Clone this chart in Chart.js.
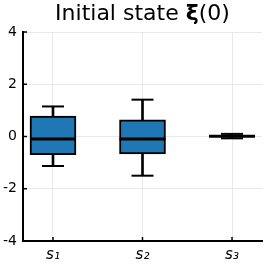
<!DOCTYPE html>
<html>
<head>
<meta charset="utf-8">
<script src="https://cdn.jsdelivr.net/npm/chart.js@4"></script>
<style>
  html, body { margin: 0; padding: 0; background: #fff; overflow: hidden; }
  #wrap { position: relative; width: 266px; height: 266px; }
  #title {
    position: absolute; left: 23px; width: 239px; top: 0px;
    text-align: center; font-family: "DejaVu Sans", sans-serif;
    font-size: 22px; line-height: 26px; color: #000;
  }
</style>
</head>
<body>
<div id="wrap">
  <div id="title">Initial state <b>ξ</b>(0)</div>
  <canvas id="box" width="266" height="266"></canvas>
</div>
<script>
const categories = ['s₁', 's₂', 's₃'];
const lowWhisker = [-1.13, -1.50, -0.07];
const q1 = [-0.70, -0.67, 0.00];
const medians = [-0.10, -0.10, 0.01];
const q3 = [0.78, 0.64, 0.02];
const highWhisker = [1.15, 1.41, 0.10];
const yTicks = [-4, -2, 0, 2, 4];

const xs = categories.map((c, i) => i + 1);

// short tick marks pointing into the plot
const innerTicks = {
    id: 'innerTicks',
    afterDraw(chart) {
        const c = chart.ctx, a = chart.chartArea;
        const xScale = chart.scales.x, yScale = chart.scales.y;
        c.save();
        c.strokeStyle = '#000';
        c.lineWidth = 1.5;
        yScale.ticks.forEach(t => {
            const py = yScale.getPixelForValue(t.value);
            c.beginPath(); c.moveTo(a.left, py); c.lineTo(a.left + 4, py); c.stroke();
        });
        xScale.ticks.forEach(t => {
            const px = xScale.getPixelForValue(t.value);
            c.beginPath(); c.moveTo(px, a.bottom); c.lineTo(px, a.bottom - 4); c.stroke();
        });
        c.restore();
    }
};

const ctx = document.getElementById('box').getContext('2d');
const chart = new Chart(ctx, {
    type: 'bar',
    data: {
        datasets: [
            {
                // whisker stems
                data: xs.map((x, i) => ({ x: x, y: [lowWhisker[i], highWhisker[i]] })),
                backgroundColor: '#000',
                barThickness: 2,
                grouped: false,
                order: 3
            },
            {
                // boxes
                data: xs.map((x, i) => ({ x: x, y: [q1[i], q3[i]] })),
                backgroundColor: '#1f77b4',
                borderColor: '#000',
                borderWidth: 2,
                borderSkipped: false,
                barThickness: 46,
                grouped: false,
                order: 2
            },
            {
                type: 'line',
                data: xs.map((x, i) => ({ x: x, y: medians[i] })),
                showLine: false,
                pointStyle: 'line',
                pointRadius: 23,
                pointBorderWidth: 3,
                borderColor: '#000',
                order: 1
            },
            {
                type: 'line',
                data: xs.map((x, i) => ({ x: x, y: lowWhisker[i] }))
                    .concat(xs.map((x, i) => ({ x: x, y: highWhisker[i] }))),
                showLine: false,
                pointStyle: 'line',
                pointRadius: 11,
                pointBorderWidth: 2,
                borderColor: '#000',
                order: 1
            }
        ]
    },
    options: {
        responsive: false,
        animation: false,
        layout: { autoPadding: false, padding: { top: 32, right: 4, left: 0, bottom: 0 } },
        plugins: {
            legend: { display: false },
            tooltip: { enabled: false }
        },
        scales: {
            x: {
                type: 'linear',
                min: 0.665,
                max: 3.335,
                offset: false,
                afterFit: s => { s.height = 25; s.paddingLeft = 0; s.paddingRight = 0; },
                afterBuildTicks: s => { s.ticks = xs.map(v => ({ value: v })); },
                grid: { color: '#e8e8e8', lineWidth: 1, drawTicks: false, offset: false },
                border: { color: '#000', width: 2 },
                ticks: {
                    padding: 5,
                    color: '#000',
                    font: { family: 'DejaVu Sans', size: 15, style: 'italic' },
                    callback: v => categories[v - 1]
                }
            },
            y: {
                min: -4,
                max: 4,
                afterFit: s => { s.width = 23; s.paddingTop = 0; s.paddingBottom = 0; },
                afterBuildTicks: s => { s.ticks = yTicks.map(v => ({ value: v })); },
                grid: { color: '#e8e8e8', lineWidth: 1, drawTicks: false },
                border: { color: '#000', width: 2 },
                ticks: {
                    padding: 6,
                    color: '#000',
                    font: { family: 'DejaVu Sans', size: 14 }
                }
            }
        }
    },
    plugins: [innerTicks]
});
</script>
</body>
</html>
